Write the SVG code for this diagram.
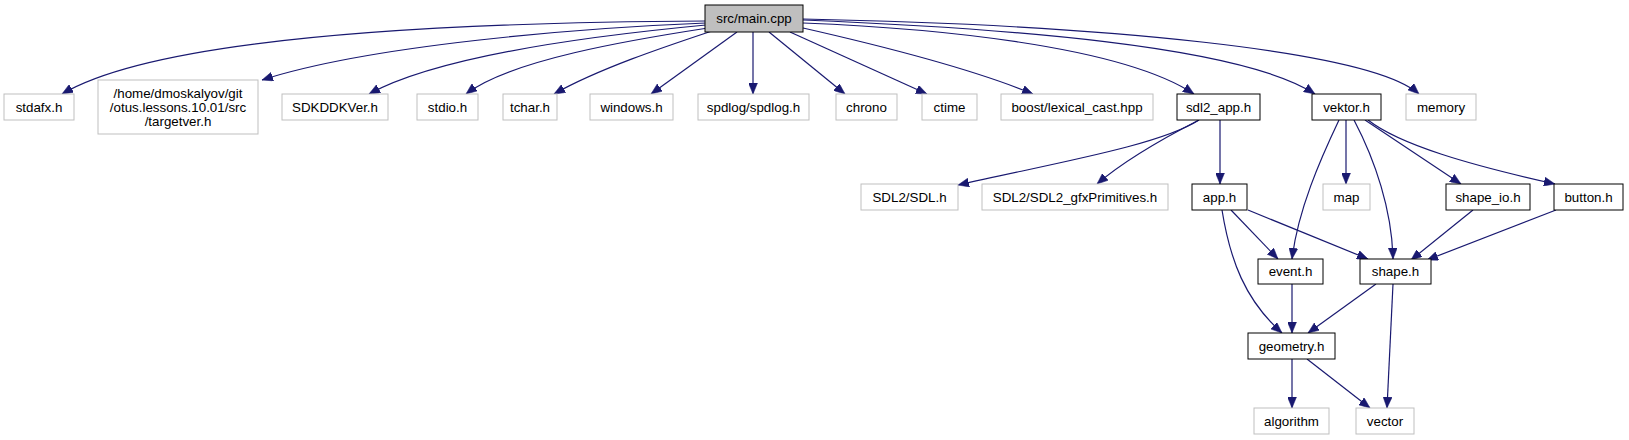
<svg xmlns="http://www.w3.org/2000/svg" width="1629" height="440" viewBox="0 0 1629 440">
<style>
.n rect{fill:#fff;stroke:#bfbfbf;stroke-width:1}
.d rect{fill:#fff;stroke:#000;stroke-width:1}
.m rect{fill:#bfbfbf;stroke:#000;stroke-width:1}
text{font-family:"Liberation Sans",Arial,Helvetica,sans-serif;font-size:13.33px;fill:#000;text-anchor:middle}
#edges path{fill:none;stroke:#191970;stroke-width:1.2;marker-end:url(#ah)}
</style>
<defs>
<marker id="ah" markerUnits="userSpaceOnUse" viewBox="0 0 11 9" refX="11" refY="4.5" markerWidth="11" markerHeight="9" orient="auto">
<path d="M0,0 L11,4.5 L0,9 z" fill="#191970" stroke="#191970" stroke-width="0.5"/>
</marker>
</defs>
<rect width="1629" height="440" fill="#fff"/>
<g id="edges">
<path d="M706,21 C520,22 170,30 62,94"/>
<path d="M706,23 C580,28 370,45 262,80"/>
<path d="M706,25 C600,35 440,55 369,94"/>
<path d="M708,28 C630,40 510,60 466,94"/>
<path d="M712,31 C670,45 600,68 554,94"/>
<path d="M737,32 L651,94"/>
<path d="M753,32 L753,94"/>
<path d="M769,32 L845,94"/>
<path d="M790,32 L927,94"/>
<path d="M803,28 C900,50 980,72 1033,94"/>
<path d="M803,23 C930,28 1120,45 1194,94"/>
<path d="M803,20 C1000,28 1240,45 1315,94"/>
<path d="M803,19 C1100,25 1370,50 1419,94"/>
<path d="M1199,120 C1160,145 1060,162 958,185"/>
<path d="M1199,120 C1160,140 1125,160 1097,184"/>
<path d="M1220,120 L1220,184"/>
<path d="M1339,120 C1320,160 1298,210 1292,259"/>
<path d="M1346,120 L1346,184"/>
<path d="M1354,120 C1375,160 1392,210 1393,259"/>
<path d="M1365,120 L1461,184"/>
<path d="M1368,120 C1400,145 1470,165 1555,184"/>
<path d="M1231,210 L1278,259"/>
<path d="M1248,210 L1368,259"/>
<path d="M1222,210 C1230,260 1245,300 1282,333"/>
<path d="M1556,210 L1427,260"/>
<path d="M1473,210 L1411,260"/>
<path d="M1292,284 L1292,333"/>
<path d="M1376,284 L1308,333"/>
<path d="M1393,284 C1391,330 1389,370 1387,408"/>
<path d="M1292,359 L1292,408"/>
<path d="M1307,359 L1370,408"/>
</g>
<g id="main" class="m"><rect x="705" y="5" width="98" height="27"/><text x="754" y="23">src/main.cpp</text></g>
<g id="stdafx" class="n"><rect x="4" y="94" width="70" height="26"/><text x="39" y="111.5">stdafx.h</text></g>
<g id="targetver" class="n"><rect x="98" y="80" width="160" height="54"/><text x="178" y="97.5">/home/dmoskalyov/git</text><text x="178" y="111.5">/otus.lessons.10.01/src</text><text x="178" y="125.5">/targetver.h</text></g>
<g id="sdkddkver" class="n"><rect x="282" y="94" width="106" height="26"/><text x="335" y="111.5">SDKDDKVer.h</text></g>
<g id="stdio" class="n"><rect x="417" y="94" width="61" height="26"/><text x="447.5" y="111.5">stdio.h</text></g>
<g id="tchar" class="n"><rect x="503" y="94" width="54" height="26"/><text x="530" y="111.5">tchar.h</text></g>
<g id="windows" class="n"><rect x="590" y="94" width="83" height="26"/><text x="631.5" y="111.5">windows.h</text></g>
<g id="spdlog" class="n"><rect x="698" y="94" width="111" height="26"/><text x="753.5" y="111.5">spdlog/spdlog.h</text></g>
<g id="chrono" class="n"><rect x="836" y="94" width="61" height="26"/><text x="866.5" y="111.5">chrono</text></g>
<g id="ctime" class="n"><rect x="922" y="94" width="55" height="26"/><text x="949.5" y="111.5">ctime</text></g>
<g id="boost" class="n"><rect x="1001" y="94" width="152" height="26"/><text x="1077" y="111.5">boost/lexical_cast.hpp</text></g>
<g id="sdl2_app" class="d"><rect x="1177" y="94" width="83" height="26"/><text x="1218.5" y="111.5">sdl2_app.h</text></g>
<g id="vektor" class="d"><rect x="1312" y="94" width="69" height="26"/><text x="1346.5" y="111.5">vektor.h</text></g>
<g id="memory" class="n"><rect x="1406" y="94" width="70" height="26"/><text x="1441" y="111.5">memory</text></g>
<g id="sdl" class="n"><rect x="861" y="184" width="97" height="26"/><text x="909.5" y="201.5">SDL2/SDL.h</text></g>
<g id="gfx" class="n"><rect x="982" y="184" width="186" height="26"/><text x="1075" y="201.5">SDL2/SDL2_gfxPrimitives.h</text></g>
<g id="app" class="d"><rect x="1192" y="184" width="55" height="26"/><text x="1219.5" y="201.5">app.h</text></g>
<g id="map" class="n"><rect x="1323" y="184" width="47" height="26"/><text x="1346.5" y="201.5">map</text></g>
<g id="shape_io" class="d"><rect x="1446" y="184" width="84" height="26"/><text x="1488" y="201.5">shape_io.h</text></g>
<g id="button" class="d"><rect x="1554" y="184" width="69" height="26"/><text x="1588.5" y="201.5">button.h</text></g>
<g id="event" class="d"><rect x="1258" y="259" width="65" height="25"/><text x="1290.5" y="276">event.h</text></g>
<g id="shape" class="d"><rect x="1360" y="259" width="71" height="25"/><text x="1395.5" y="276">shape.h</text></g>
<g id="geometry" class="d"><rect x="1248" y="333" width="87" height="26"/><text x="1291.5" y="350.5">geometry.h</text></g>
<g id="algorithm" class="n"><rect x="1254" y="408" width="75" height="26"/><text x="1291.5" y="425.5">algorithm</text></g>
<g id="vector" class="n"><rect x="1356" y="408" width="58" height="26"/><text x="1385" y="425.5">vector</text></g>
</svg>
